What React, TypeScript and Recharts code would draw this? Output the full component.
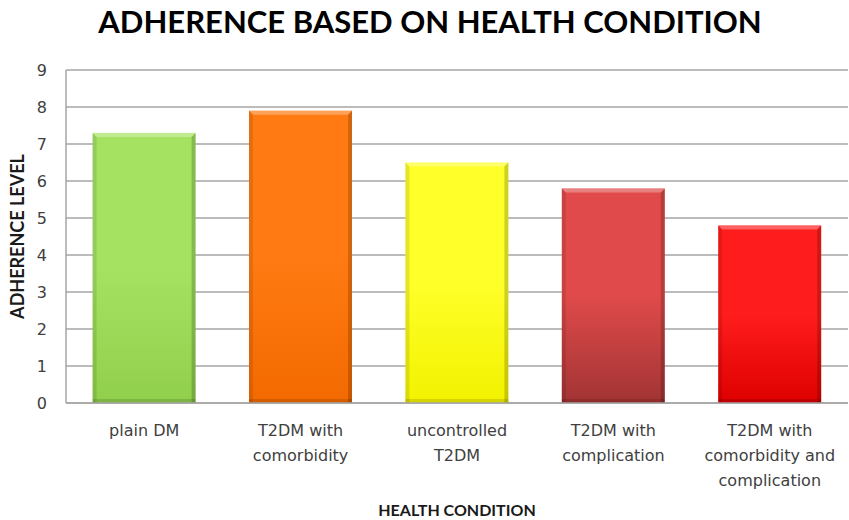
import { Bar, BarChart, CartesianGrid, Label, XAxis, YAxis } from "recharts";

const categories = [
  "plain DM",
  "T2DM with\ncomorbidity",
  "uncontrolled\nT2DM",
  "T2DM with\ncomplication",
  "T2DM with\ncomorbidity and\ncomplication",
];
const adherence = [7.3, 7.9, 6.5, 5.8, 4.8];
const yTicks = [0, 1, 2, 3, 4, 5, 6, 7, 8, 9];

const topColors = ["#a6e262", "#ff7a12", "#ffff2a", "#e04a4a", "#ff1c1c"];
const bottomColors = ["#90cf4c", "#f26a00", "#f2f200", "#a23434", "#de0000"];

const data = categories.map((name, i) => ({ name, value: adherence[i] }));

const TICK_FONT = "'DejaVu Sans', Verdana, sans-serif";
const LABEL_FONT = "Lato, 'Open Sans', sans-serif";

function CategoryTick({ x, y, payload }: any) {
  const lines = String(payload.value).split("\n");
  return (
    <text x={x} y={y} textAnchor="middle" fill="#404040" fontSize={16} fontFamily={TICK_FONT}>
      {lines.map((line, i) => (
        <tspan key={line} x={x} dy={i === 0 ? 25 : 25}>
          {line}
        </tspan>
      ))}
    </text>
  );
}

function BeveledBar(props: any) {
  const { x, y, width, height, payload } = props;
  if (!height || height <= 0) return null;
  const idx = props.index ?? categories.indexOf(payload?.name);
  const id = `bar-grad-${idx}`;
  const b = 4;
  return (
    <g>
      <defs>
        <linearGradient id={id} x1="0" y1="0" x2="0" y2="1">
          <stop offset="0%" stopColor={topColors[idx]} />
          <stop offset="50%" stopColor={topColors[idx]} />
          <stop offset="100%" stopColor={bottomColors[idx]} />
        </linearGradient>
      </defs>
      <rect x={x} y={y} width={width} height={height} fill={`url(#${id})`} />
      <polygon
        points={`${x},${y} ${x + width},${y} ${x + width - b},${y + b} ${x + b},${y + b}`}
        fill="#ffffff"
        fillOpacity={0.3}
      />
      <polygon
        points={`${x},${y} ${x + b},${y + b} ${x + b},${y + height} ${x},${y + height}`}
        fill="#000000"
        fillOpacity={0.1}
      />
      <polygon
        points={`${x + width},${y} ${x + width - b},${y + b} ${x + width - b},${y + height} ${x + width},${y + height}`}
        fill="#000000"
        fillOpacity={0.18}
      />
      <rect x={x} y={y + height - b} width={width} height={b} fill="#000000" fillOpacity={0.12} />
    </g>
  );
}

export default function App() {
  return (
    <div style={{ position: "absolute", left: 0, top: 0, width: 849, height: 520, background: "#fff" }}>
      <div
        style={{
          position: "absolute",
          left: 0,
          top: 2,
          width: 860,
          textAlign: "center",
          fontFamily: LABEL_FONT,
          fontWeight: 700,
          fontSize: 31,
          color: "#000",
        }}
      >
        ADHERENCE BASED ON HEALTH CONDITION
      </div>
      <BarChart
        width={849}
        height={520}
        data={data}
        margin={{ top: 70, right: 1, left: 0, bottom: 0 }}
        barCategoryGap="17%"
      >
        <CartesianGrid vertical={false} stroke="#a6a6a6" strokeWidth={1.5} />
        <XAxis
          dataKey="name"
          height={117}
          interval={0}
          tickLine={false}
          axisLine={{ stroke: "#a6a6a6", strokeWidth: 1.5 }}
          tick={<CategoryTick />}
        >
          <Label
            value="HEALTH CONDITION"
            position="insideBottom"
            offset={4}
            style={{ fontFamily: LABEL_FONT, fontWeight: 700, fontSize: 16, fill: "#1a1a1a" }}
          />
        </XAxis>
        <YAxis
          width={66}
          domain={[0, 9]}
          ticks={yTicks}
          interval={0}
          tickLine={false}
          tickSize={0}
          tickMargin={19}
          axisLine={{ stroke: "#a6a6a6", strokeWidth: 1.5 }}
          tick={{ fill: "#404040", fontSize: 16, fontFamily: TICK_FONT }}
        >
          <Label
            value="ADHERENCE  LEVEL"
            angle={-90}
            position="insideLeft"
            offset={18}
            style={{ textAnchor: "middle", fontFamily: LABEL_FONT, fontWeight: 700, fontSize: 18, fill: "#1a1a1a" }}
          />
        </YAxis>
        <Bar dataKey="value" isAnimationActive={false} shape={<BeveledBar />} />
      </BarChart>
    </div>
  );
}
